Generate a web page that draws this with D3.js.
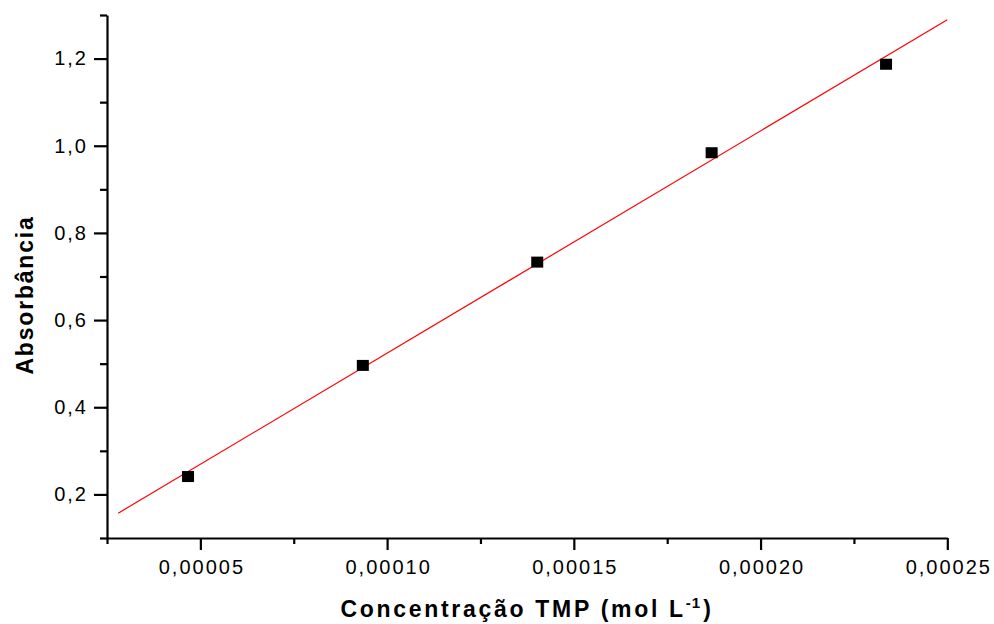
<!DOCTYPE html>
<html><head><meta charset="utf-8">
<script src="https://cdn.jsdelivr.net/npm/d3@7"></script>
<style>body{margin:0;background:#fff}svg{display:block}</style>
</head><body>
<script>
// Data
const concentration = [0.0000467, 0.0000935, 0.0001402, 0.0001869, 0.0002336];
const absorbance   = [0.241, 0.496, 0.733, 0.984, 1.187];
const fitX = [0.000028, 0.00025];
const fitY = [0.157, 1.289];
const xMajorTicks = [0.00005, 0.00010, 0.00015, 0.00020, 0.00025];
const xMinorTicks = [0.000025, 0.000075, 0.000125, 0.000175, 0.000225];
const yMajorTicks = [0.2, 0.4, 0.6, 0.8, 1.0, 1.2];
const yMinorTicks = [0.1, 0.3, 0.5, 0.7, 0.9, 1.1, 1.3];
const xTitle = "Concentração TMP (mol L";
const yTitle = "Absorbância";

const W = 994, H = 624;
const svg = d3.select("body").append("svg").attr("width", W).attr("height", H);

const x = d3.scaleLinear().domain([0.000025, 0.00025]).range([107, 947.3]);
const y = d3.scaleLinear().domain([0.1, 1.3]).range([538, 15]);

const loc = d3.formatLocale({decimal: ",", thousands: ".", grouping: [3], currency: ["", ""]});
const fx = loc.format(".5f"), fy = loc.format(".1f");

const font = "'Liberation Sans', Arial, sans-serif";

function styleAxis(g) {
  g.selectAll("path.domain").attr("stroke", "#000").attr("stroke-width", 2.2);
  g.selectAll(".tick line").attr("stroke", "#000").attr("stroke-width", 2.2);
  g.selectAll(".tick text").attr("fill", "#000").style("font-family", font)
    .style("font-size", "20px").style("letter-spacing", "2px");
}

// X axis
const gx = svg.append("g").attr("transform", `translate(0,${y(0.1)})`)
  .call(d3.axisBottom(x).tickValues(xMajorTicks).tickFormat(fx).tickSize(12).tickSizeOuter(0).tickPadding(10));
styleAxis(gx);
gx.selectAll(".tick text").attr("dx", "1px");
const gxm = svg.append("g").attr("transform", `translate(0,${y(0.1)})`)
  .call(d3.axisBottom(x).tickValues(xMinorTicks).tickFormat("").tickSize(6).tickSizeOuter(0));
styleAxis(gxm); gxm.select("path.domain").remove();

// Y axis
const gy = svg.append("g").attr("transform", `translate(${x(0.000025)},0)`)
  .call(d3.axisLeft(y).tickValues(yMajorTicks).tickFormat(fy).tickSize(13).tickSizeOuter(0).tickPadding(8));
styleAxis(gy);
gy.selectAll(".tick text").attr("dx", "2px");
const gym = svg.append("g").attr("transform", `translate(${x(0.000025)},0)`)
  .call(d3.axisLeft(y).tickValues(yMinorTicks).tickFormat("").tickSize(7).tickSizeOuter(0));
styleAxis(gym); gym.select("path.domain").remove();

// Fit line
svg.append("path")
  .datum(fitX.map((v, i) => [v, fitY[i]]))
  .attr("d", d3.line().x(d => x(d[0])).y(d => y(d[1])))
  .attr("fill", "none").attr("stroke", "#ff0000").attr("stroke-width", 1.2);

// Points
const s = 12;
svg.append("g").selectAll("rect").data(concentration.map((v, i) => [v, absorbance[i]]))
  .join("rect")
  .attr("x", d => x(d[0]) - s / 2).attr("y", d => y(d[1]) - s / 2 + 0.5)
  .attr("width", s).attr("height", s - 1).attr("fill", "#000");

// X title
const xt = svg.append("text").attr("x", 527).attr("y", 616.5).attr("text-anchor", "middle")
  .style("font-family", font).style("font-size", "23px").style("font-weight", "bold")
  .style("letter-spacing", "2.7px").attr("fill", "#000");
xt.append("tspan").text(xTitle);
xt.append("tspan").attr("dy", "-9").style("font-size", "15px").style("letter-spacing", "1px").text("-1");
xt.append("tspan").attr("dy", "9").attr("dx", "2").text(")");

// Y title
svg.append("text").attr("transform", "translate(33,295) rotate(-90)").attr("text-anchor", "middle")
  .style("font-family", font).style("font-size", "23px").style("font-weight", "bold")
  .style("letter-spacing", "1.8px").attr("fill", "#000").text(yTitle);
</script>
</body></html>
